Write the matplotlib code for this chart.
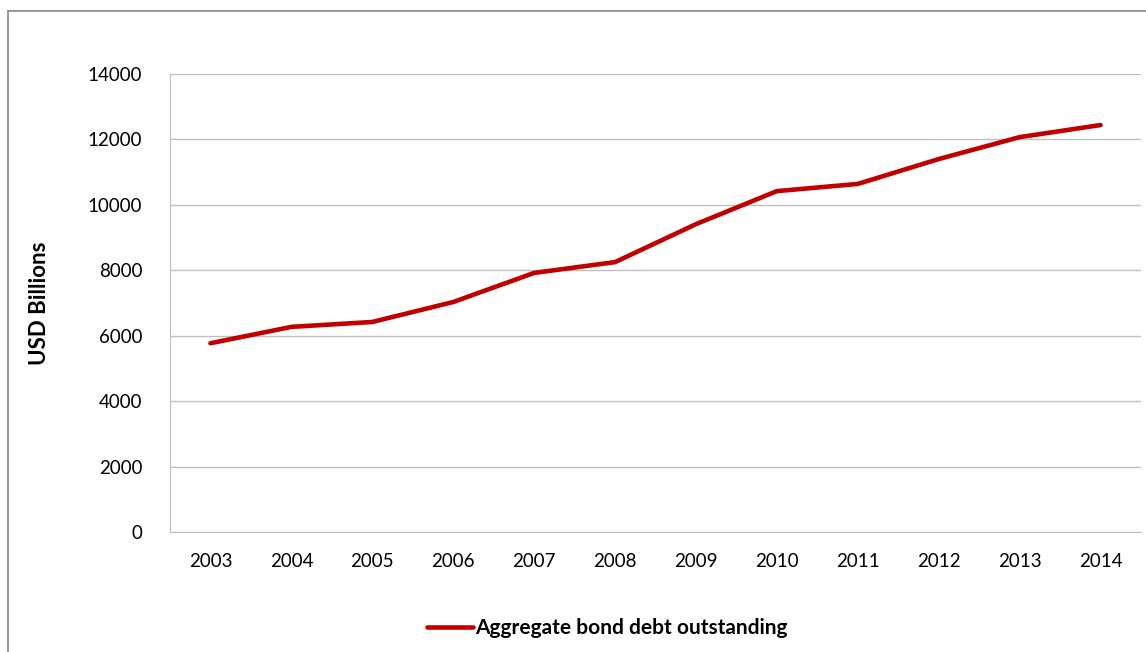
import matplotlib.pyplot as plt
from matplotlib.patches import Rectangle

years = ['2003', '2004', '2005', '2006', '2007', '2008',
         '2009', '2010', '2011', '2012', '2013', '2014']
debt = [5770, 6270, 6420, 7030, 7920, 8250, 9410, 10420, 10640, 11400, 12070, 12440]
y_ticks = [0, 2000, 4000, 6000, 8000, 10000, 12000, 14000]

plt.rcParams['font.family'] = ['Lato', 'DejaVu Sans']

fig = plt.figure(figsize=(11.46, 6.52), dpi=100)
ax = fig.add_axes([170 / 1146, 120 / 652, 971 / 1146, 458 / 652])

x = list(range(len(years)))
ax.plot(x, debt, color='#C00000', linewidth=3.3, solid_capstyle='round',
        label='Aggregate bond debt outstanding')

ax.set_xlim(-0.5, len(years) - 0.5)
ax.set_ylim(0, 14000)
ax.set_yticks(y_ticks)
ax.set_xticks(x)
ax.set_xticklabels(years)
ax.grid(axis='y', color='#BFBFBF', linewidth=1)
ax.set_axisbelow(True)
ax.tick_params(length=0, labelsize=13.5, colors='black')
ax.tick_params(axis='x', pad=15)
ax.tick_params(axis='y', pad=20)
for side in ['top', 'right']:
    ax.spines[side].set_visible(False)
for side in ['left', 'bottom']:
    ax.spines[side].set_color('#BFBFBF')

ax.set_ylabel('USD Billions', fontsize=16, fontweight='bold', labelpad=27)

leg = fig.legend(loc='center', bbox_to_anchor=(607 / 1146, 1 - 628 / 652),
                 frameon=False, handlelength=2.2, handletextpad=0.1,
                 prop={'size': 15, 'weight': 'bold'})

# outer chart border (right and bottom edges cut off in the reference)
fig.patches.append(Rectangle((8 / 1146, -0.1), 1.1, 1 - 11 / 652 + 0.1,
                             transform=fig.transFigure, fill=False,
                             edgecolor='#868686', linewidth=1.2))

fig.savefig('out.png', dpi=100)
